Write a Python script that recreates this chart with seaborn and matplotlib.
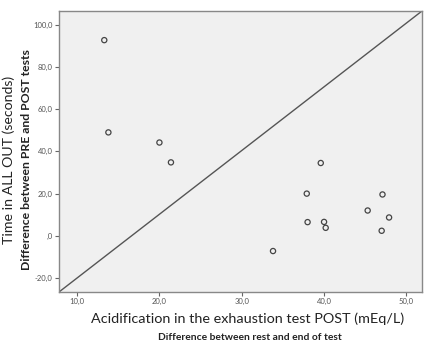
import matplotlib
matplotlib.use("Agg")
import matplotlib.pyplot as plt
import seaborn as sns
import pandas as pd
from matplotlib.ticker import FuncFormatter

acidification = [13.3, 13.8, 20.0, 21.4, 39.6, 37.9, 47.1, 45.3, 47.9, 38.0, 40.0, 40.2, 47.0, 33.8]
time_all_out = [92.7, 49.0, 44.2, 34.8, 34.5, 20.0, 19.6, 12.0, 8.7, 6.5, 6.6, 3.8, 2.4, -7.2]
x_ticks = [10, 20, 30, 40, 50]
y_ticks = [-20, 0, 20, 40, 60, 80, 100]

df = pd.DataFrame({"x": acidification, "y": time_all_out})

sns.set_style("white")
plt.rcParams["font.family"] = ["Lato", "DejaVu Sans"]

fig = plt.figure(figsize=(4.38, 3.46), dpi=100)
ax = fig.add_axes([59/438, 1-292/346, (422-59)/438, (292-11)/346])
ax.set_facecolor("#f0f0f0")

xlim = (7.8, 51.9)
ylim = (-26.6, 106.5)
ax.plot(xlim, ylim, color="#555555", lw=1.0, zorder=1)

sns.scatterplot(data=df, x="x", y="y", ax=ax, marker="o", s=14,
                facecolor="none", edgecolor="#444444", linewidth=0.9, zorder=3)

ax.set_xlim(*xlim)
ax.set_ylim(*ylim)
ax.set_xticks(x_ticks)
ax.set_yticks(y_ticks)

def fmt(v, pos):
    if v == 0:
        return ",0"
    return f"{v:.1f}".replace(".", ",")

ax.xaxis.set_major_formatter(FuncFormatter(fmt))
ax.yaxis.set_major_formatter(FuncFormatter(fmt))
ax.tick_params(axis="both", which="major", direction="out", length=3, width=0.8,
               color="#666666", labelsize=5.5, labelcolor="#555555", pad=1.5,
               left=True, bottom=True)
for sp in ax.spines.values():
    sp.set_color("#888888")
    sp.set_linewidth(1.0)

ax.set_xlabel("")
ax.set_ylabel("")
fig.text(248/438, 1 - 319/346, "Acidification in the exhaustion test POST (mEq/L)",
         ha="center", va="center", fontsize=10.4, color="#222222")
fig.text(250/438, 1 - 337/346, "Difference between rest and end of test",
         ha="center", va="center", fontsize=7.4, fontweight="bold", color="#222222")
fig.text(9/438, 1 - 160/346, "Time in ALL OUT (seconds)",
         ha="center", va="center", rotation=90, fontsize=10.2, color="#222222")
fig.text(27/438, 1 - 160/346, "Difference between PRE and POST tests",
         ha="center", va="center", rotation=90, fontsize=8.8, fontweight="bold", color="#222222")

fig.savefig("out.png", dpi=100)
